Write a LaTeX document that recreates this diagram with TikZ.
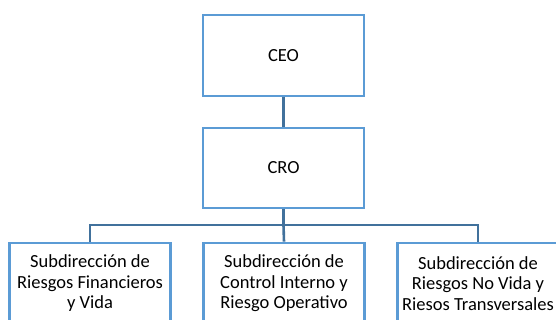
\documentclass[tikz,border=0pt]{standalone}
\usepackage{fontspec}
\setmainfont{Carlito}
\definecolor{boxblue}{HTML}{5B9BD5}
\definecolor{linkblue}{HTML}{41719C}
\begin{document}
\begin{tikzpicture}[x=1pt,y=1pt,
  orgbox/.style={draw=boxblue, line width=2.8pt, fill=white, minimum width=161pt, minimum height=81pt,
    inner sep=0pt, align=center, font=\fontsize{18.5}{20.5}\selectfont},
  link/.style={draw=linkblue, line width=2.6pt}]
\useasboundingbox (0,0) rectangle (556,-320);
\clip (0,0) rectangle (556,-320);
\fill[white] (0,0) rectangle (556,-320);
\node[orgbox] (ceo) at (283.5,-55.5) {CEO};
\node[orgbox, minimum height=80pt] (cro) at (283.5,-168) {CRO};
\node[orgbox] (s1) at (90,-283.5) {Subdirección de\\Riesgos Financieros\\y Vida};
\node[orgbox] (s2) at (284,-283.5) {Subdirección de\\Control Interno y\\Riesgo Operativo};
\node[orgbox] (s3) at (478,-283.5) {Subdirección de\\Riesgos No Vida y\\Riesos Transversales};
\coordinate (bar) at (283.5,-225);
\draw[link] (ceo.south) -- (cro.north);
\draw[link] (cro.south) -- (bar);
\draw[link] (bar) -| (s1.north);
\draw[link] (bar) -| (s3.north);
\draw[link] (bar) -- (s2.north);
\end{tikzpicture}
\end{document}
